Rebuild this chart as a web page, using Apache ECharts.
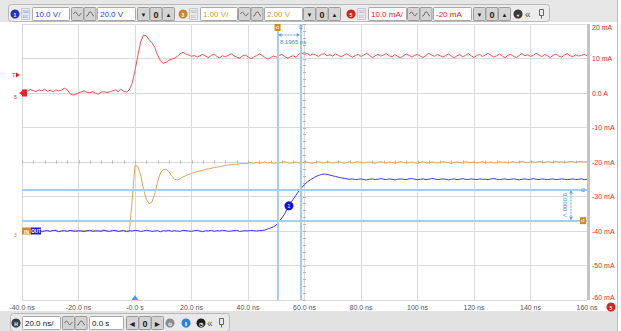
<!DOCTYPE html>
<html>
<head>
<meta charset="utf-8">
<script src="https://cdn.jsdelivr.net/npm/echarts@6/dist/echarts.min.js"></script>
<style>
  html, body { margin: 0; padding: 0; background: #fff; }
  #scope { width: 621px; height: 331px; }
</style>
</head>
<body>
<div id="scope"></div>
<script>
// Sampling: one point per nanosecond starting at -40 ns
const T0 = -40;
const DT = 1;

// Horizontal axis (20 ns/div)
const timeTicks = [-40, -20, 0, 20, 40, 60, 80, 100, 120, 140, 160];
const timeLabels = ['-40.0 ns', '-20.0 ns', '-0.0 s', '20.0 ns', '40.0 ns', '60.0 ns', '80.0 ns', '100 ns', '120 ns', '140 ns', '160 ns'];

// Channel 5 scale (10 mA/div, offset -20 mA) shown on the right
const currentTicks = [20, 10, 0, -10, -20, -30, -40, -50, -60];
const currentLabels = ['20 mA', '10 mA', '0.0 A', '-10 mA', '-20 mA', '-30 mA', '-40 mA', '-50 mA', '-60 mA'];

// Channel 5: current, mA
const ch5Current = [
  0.6, 0.9, 0.5, 1.0, 0.7, 0.4, 0.9, 0.6, 1.1, 0.5,
  0.8, 0.4, 0.9, 0.6, 0.8, 1.4, 1.0, -0.2, -0.6, -0.4,
  0.0, 0.3, 0.6, 0.2, 0.1, 0.4, 0.0, -0.3, 0.2, 0.4,
  0.1, 0.3, 0.6, 0.9, 0.4, 1.1, 0.5, 0.3, 0.9, 2.8,
  6.5, 10.8, 14.8, 16.8, 16.6, 15.4, 14.6, 13.2, 11.0, 9.3,
  8.6, 8.9, 9.5, 9.8, 10.1, 10.6, 11.4, 11.8, 11.3, 11.0,
  10.6, 10.9, 10.4, 10.8, 11.2, 10.7, 10.3, 10.9, 11.3, 10.6,
  10.2, 10.8, 10.5, 10.9, 11.4, 10.8, 10.4, 10.1, 10.7, 11.0,
  10.5, 9.9, 10.4, 10.8, 11.3, 10.9, 10.3, 9.8, 10.2, 10.7,
  10.4, 10.9, 11.2, 10.6, 10.1, 10.5, 10.8, 10.3, 11.3, 11.6,
  11.2, 11.5, 10.9, 11.3, 11.0, 10.6, 11.2, 11.4, 10.8, 11.1,
  10.7, 11.3, 10.9, 10.5, 11.0, 11.4, 10.8, 10.4, 10.9, 11.2,
  10.6, 11.0, 11.5, 10.9, 10.3, 10.8, 11.2, 10.7, 11.0, 11.4,
  10.8, 10.5, 11.1, 10.6, 10.2, 10.8, 11.3, 10.9, 10.4, 10.9,
  11.2, 10.7, 10.3, 10.9, 11.5, 11.0, 10.6, 11.2, 10.8, 10.4,
  10.9, 11.3, 10.7, 10.2, 10.8, 11.1, 10.5, 10.9, 11.4, 10.8,
  10.3, 10.9, 11.2, 10.6, 11.0, 11.5, 10.9, 10.4, 10.8, 11.3,
  10.7, 10.2, 10.9, 11.2, 10.6, 10.3, 10.9, 11.4, 10.8, 11.1,
  10.6, 10.9, 11.5, 11.0, 10.5, 11.2, 10.8, 10.3, 10.9, 11.3,
  10.7, 10.4, 11.0, 11.4, 10.8, 10.5, 11.1, 10.7, 10.9, 11.2,
  10.8
];

// Channel 3: input voltage, V
const ch3Voltage = [
  0.01, -0.02, 0.02, 0.00, -0.01, 0.03, 0.01, -0.02, 0.00, 0.02,
  -0.01, 0.01, 0.03, -0.02, 0.00, 0.02, -0.01, 0.01, 0.00, 0.03,
  -0.02, 0.01, 0.02, -0.01, 0.00, 0.02, 0.01, -0.02, 0.01, 0.03,
  0.00, -0.01, 0.02, 0.01, -0.02, 0.00, 0.02, 0.01, -0.03, 0.90,
  1.90, 1.88, 1.62, 1.22, 0.92, 0.79, 0.84, 1.08, 1.42, 1.68,
  1.78, 1.79, 1.72, 1.60, 1.50, 1.48, 1.52, 1.57, 1.60, 1.64,
  1.67, 1.70, 1.72, 1.74, 1.76, 1.79, 1.80, 1.82, 1.84, 1.85,
  1.87, 1.88, 1.90, 1.91, 1.92, 1.94, 1.93, 1.95, 1.96, 1.95,
  1.97, 1.98, 1.96, 1.99, 1.97, 1.98, 2.00, 1.97, 1.99, 1.96,
  1.98, 1.97, 1.99, 2.01, 1.98, 1.96, 1.99, 2.00, 1.97, 1.98,
  2.01, 1.99, 1.97, 1.96, 1.99, 2.01, 1.98, 1.97, 2.00, 1.99,
  1.97, 1.98, 2.01, 1.99, 1.96, 1.98, 2.00, 1.97, 1.99, 2.01,
  1.98, 1.97, 1.99, 2.00, 1.98, 1.96, 1.99, 2.01, 1.98, 1.97,
  2.00, 1.99, 1.97, 1.98, 2.01, 1.99, 1.97, 1.98, 2.00, 1.98,
  1.96, 1.99, 2.01, 1.98, 1.97, 2.00, 1.99, 1.97, 1.98, 2.01,
  1.99, 1.98, 1.96, 1.99, 2.00, 1.98, 1.97, 2.01, 1.99, 1.98,
  2.00, 1.97, 1.99, 2.01, 1.98, 1.99, 2.00, 1.97, 1.98, 2.01,
  1.99, 2.00, 1.98, 1.99, 2.01, 1.98, 2.00, 2.02, 1.99, 1.98,
  2.01, 2.00, 1.99, 2.02, 2.00, 1.98, 2.01, 2.00, 1.99, 2.02,
  2.00, 2.01, 1.99, 2.00, 2.02, 2.01, 1.99, 2.01, 2.02, 2.00,
  2.01
];

// Channel 1: output voltage, V
const ch1Voltage = [
  0.1, -0.1, 0.2, 0.0, -0.2, 0.1, 0.2, -0.1, 0.0, 0.1,
  -0.1, 0.2, 0.1, -0.2, 0.0, 0.1, -0.1, 0.2, 0.0, -0.1,
  0.1, 0.0, -0.2, 0.1, 0.2, -0.1, 0.0, 0.1, -0.1, 0.2,
  0.0, -0.1, 0.1, 0.2, -0.1, 0.0, 0.1, -0.2, 0.1, 0.0,
  0.2, 0.1, -0.1, 0.0, 0.2, 0.1, -0.1, 0.0, 0.1, -0.2,
  0.1, 0.0, 0.2, -0.1, 0.1, 0.0, -0.1, 0.2, 0.1, 0.0,
  -0.1, 0.1, 0.2, 0.0, -0.2, 0.1, 0.0, 0.2, -0.1, 0.1,
  0.0, 0.2, 0.1, -0.1, 0.0, 0.1, 0.2, -0.1, 0.0, 0.1,
  0.0, 0.2, 0.1, 0.0,
  0.1, 0.15, 0.3, 0.6, 0.9, 1.2, 1.7, 2.7, 3.8, 5.0,
  6.6, 8.0, 9.2, 10.4, 11.6, 12.6, 13.4, 14.2, 14.8, 15.3,
  15.8, 16.1, 16.4, 16.5, 16.4, 16.2, 16.0, 15.8, 15.6, 15.4,
  15.3, 15.1, 15.0, 15.1, 14.9, 15.0, 15.1, 14.9, 14.8, 15.0,
  15.1, 14.9, 15.0, 15.2, 15.0, 14.9, 15.1, 15.0, 14.8, 15.0,
  15.1, 15.0, 14.9, 15.1, 15.2, 15.0, 14.9, 15.0, 15.1, 14.9,
  15.0, 15.2, 15.1, 14.9, 15.0, 15.1, 15.0, 14.8, 15.0, 15.1,
  14.9, 15.0, 15.2, 15.0, 14.9, 15.1, 15.0, 14.9, 15.1, 15.0,
  15.0, 14.9, 15.1, 15.2, 15.0, 14.9, 15.0, 15.1, 14.9, 15.0,
  15.1, 15.0, 14.8, 15.0, 15.1, 14.9, 15.0, 15.2, 15.0, 14.9,
  15.1, 15.0, 14.9, 15.0, 15.1, 14.9, 15.0, 15.1, 15.0, 14.9,
  15.0, 15.1, 14.9, 15.0, 15.1, 14.9, 15.0
];

// Cursors: two time cursors (ns) and two level cursors on channel 1 (V)
const cursorTimes = [50.45, 58.6465];
const cursorLevels = [3.0, 12.0];
const ch1Marker = [54.5, 7.3];
const triggerLevel = 5.2;   // mA, channel 5
const triggerTime = 0;      // ns

const RED = '#f25252', ORANGE = '#e2a552', BLUE = '#3b3bf2', CURSOR = '#a3cdf4';
const FONT = '"Liberation Sans", Arial, sans-serif';

const toPairs = arr => arr.map((v, i) => [T0 + i * DT, v]);
const labelFor = (ticks, labels) => v => {
  const k = ticks.findIndex(t => Math.abs(t - v) < 1e-9);
  return k >= 0 ? labels[k] : '';
};
// keep the outermost current labels inside the graticule
const currentLabel = v => {
  const s = labelFor(currentTicks, currentLabels)(v);
  if (v === currentTicks[0]) return '{first|' + s + '}';
  if (v === currentTicks[currentTicks.length - 1]) return '{last|' + s + '}';
  return s;
};

const chart = echarts.init(document.getElementById('scope'), null, { renderer: 'svg' });

chart.setOption({
  animation: false,
  backgroundColor: '#ffffff',
  grid: { left: 22, right: 34, top: 24, bottom: 31, containLabel: false },
  xAxis: {
    type: 'value', min: -40, max: 160, interval: 20,
    axisLine: { show: false }, axisTick: { show: false },
    splitLine: { show: true, lineStyle: { color: '#dadada', width: 1 } },
    axisLabel: { formatter: labelFor(timeTicks, timeLabels), color: '#555', fontSize: 7, fontFamily: FONT, margin: 4 }
  },
  yAxis: [
    {
      type: 'value', position: 'right', min: -60, max: 20, interval: 10,
      axisLine: { show: false }, axisTick: { show: false },
      splitLine: { show: true, lineStyle: { color: '#dadada', width: 1 } },
      axisLabel: {
        formatter: currentLabel, color: '#e02a2a', fontSize: 7, fontFamily: FONT, margin: 5,
        rich: {
          first: { color: '#e02a2a', fontSize: 7, fontFamily: FONT, padding: [6, 0, 0, 0] },
          last: { color: '#e02a2a', fontSize: 7, fontFamily: FONT, padding: [0, 0, 5, 0] }
        }
      }
    },
    { type: 'value', min: -20, max: 60, show: false, splitLine: { show: false } },
    { type: 'value', min: -2, max: 6, show: false, splitLine: { show: false } }
  ],
  series: [
    {
      name: 'CH5', type: 'line', yAxisIndex: 0, data: toPairs(ch5Current),
      showSymbol: false, lineStyle: { color: RED, width: 1 }, z: 3
    },
    {
      name: 'CH3', type: 'line', yAxisIndex: 2, data: toPairs(ch3Voltage),
      showSymbol: false, lineStyle: { color: ORANGE, width: 1 }, z: 3
    },
    {
      name: 'CH1', type: 'line', yAxisIndex: 1, data: toPairs(ch1Voltage),
      showSymbol: false, lineStyle: { color: BLUE, width: 1 }, z: 4,
      markLine: {
        silent: true, symbol: 'none', animation: false,
        label: { show: false },
        lineStyle: { color: CURSOR, width: 2, type: 'solid' },
        data: [
          { xAxis: cursorTimes[0] }, { xAxis: cursorTimes[1] },
          { yAxis: cursorLevels[0] }, { yAxis: cursorLevels[1] }
        ]
      },
      markPoint: {
        silent: true, symbol: 'circle', symbolSize: 9,
        itemStyle: { color: '#1414d8' },
        label: { show: true, formatter: '1', color: '#fff', fontSize: 5, fontFamily: FONT },
        data: [{ coord: ch1Marker }]
      }
    }
  ]
});

// ---------- overlay: scope chrome, markers and cursor readouts ----------
const g = [];
const px = (t, v, yi) => chart.convertToPixel({ xAxisIndex: 0, yAxisIndex: yi }, [t, v]);
const pL = px(-40, 0, 0)[0], pR = px(160, 0, 0)[0];
const pT = px(0, 20, 0)[1], pB = px(0, -60, 0)[1];

function text(x, y, s, color, size, opts) {
  return Object.assign({ type: 'text', x, y, z: 20,
    style: { text: s, fill: color, font: size + 'px ' + FONT, align: 'left', verticalAlign: 'middle' } }, opts || {});
}
function rect(x, y, w, h, fill, stroke, r) {
  return { type: 'rect', z: 18, shape: { x, y, width: w, height: h, r: r || 0 },
    style: { fill, stroke: stroke || null, lineWidth: 1 } };
}
function circle(cx, cy, r, fill, label, lc) {
  const out = [{ type: 'circle', z: 19, shape: { cx, cy, r }, style: { fill } }];
  if (label) out.push({ type: 'text', z: 20, x: cx, y: cy + 0.5, style: { text: label, fill: lc || '#fff', font: 'bold 5px ' + FONT, align: 'center', verticalAlign: 'middle' } });
  return out;
}
function inputBox(x, y, w, h, s, color) {
  g.push(rect(x + 0.5, y + 0.5, w, h, '#ffffff', '#a9a9a9', 1));
  g.push(text(x + 3, y + h / 2 + 1, s, color, 8));
}
function waveButtons(x, y, h) {
  for (let k = 0; k < 2; k++) {
    const bx = x + k * 12.5;
    g.push(rect(bx + 0.5, y + 0.5, 12, h, '#d4d4d4', '#9b9b9b', 1));
    const cy = y + h / 2 + 0.5;
    const shapeA = [0, -1.5, -2, -1, 0.5, 1.8, 1.5, 0, -1];
    const shapeB = [2, 2, 1, -1.5, -2, -2, -0.5, 1.5, 2];
    const pts = [];
    for (let j = 0; j <= 8; j++) pts.push([bx + 2.5 + j, cy + (k === 0 ? shapeA[j] : shapeB[j])]);
    g.push({ type: 'polyline', z: 19, shape: { points: pts }, style: { stroke: '#555', lineWidth: 0.8, fill: null } });
  }
}
function stepButtons(x, y, h, glyphs) {
  glyphs.forEach((s, k) => {
    const bx = x + k * 12.5;
    g.push(rect(bx + 0.5, y + 0.5, 12, h, '#d4d4d4', '#9b9b9b', 1));
    g.push({ type: 'text', z: 20, x: bx + 6.5, y: y + h / 2 + 1,
      style: { text: s, fill: '#222', font: (s === '0' ? 'bold 9px ' : 'bold 6px ') + FONT, align: 'center', verticalAlign: 'middle' } });
  });
}
function badge(x, y, color) {
  g.push(rect(x + 0.5, y + 0.5, 8, 11, '#e4e8f4', '#c4c8d8', 0));
  g.push({ type: 'text', z: 20, x: x + 4.5, y: y + 4, style: { text: '50Ω', fill: color, font: '3px ' + FONT, align: 'center', verticalAlign: 'middle' } });
  g.push({ type: 'text', z: 20, x: x + 4.5, y: y + 8.5, style: { text: 'DC', fill: color, font: '3.5px ' + FONT, align: 'center', verticalAlign: 'middle' } });
}

// top control strip
g.push(rect(0, 0, 617, 22, '#e6e6e6', null, 0));
g.push(rect(8.5, 4.5, 541, 17, '#ececec', '#b9b9b9', 3));
const ty = 7, th = 13;
g.push(...circle(15, 14, 4.5, '#2532c2', '1'));
badge(21, 8, '#6a74c8');
inputBox(32, ty, 37, th, '10.0 V/', '#1c3cff');
waveButtons(71, ty, th);
inputBox(97, ty, 38, th, '20.0 V', '#1c3cff');
stepButtons(137, ty, th, ['▼', '0', '▲']);
g.push(...circle(183, 14, 4.5, '#c7862b', '3'));
badge(189, 8, '#c79a5a');
inputBox(200, ty, 37, th, '1.00 V/', '#e49a2c');
waveButtons(238, ty, th);
inputBox(264, ty, 38, th, '2.00 V', '#e49a2c');
stepButtons(303, ty, th, ['▼', '0', '▲']);
g.push(...circle(351, 14, 4.5, '#d62222', '5'));
badge(357, 8, '#d88a8a');
inputBox(368, ty, 38, th, '10.0 mA/', '#e02020');
waveButtons(407, ty, th);
inputBox(433, ty, 38, th, '-20 mA', '#e02020');
stepButtons(473, ty, th, ['▼', '0', '▲']);
g.push(...circle(518, 14, 4.5, '#3a3a3a', '+'));
g.push(text(525, 14, '«', '#555', 10));
g.push(rect(539.5, 9.5, 4, 6, null, '#666', 0));
g.push({ type: 'line', z: 19, shape: { x1: 541.5, y1: 15.5, x2: 541.5, y2: 18.5 }, style: { stroke: '#666', lineWidth: 1 } });

// bottom control strip
g.push(rect(0, 311, 617, 20, '#e2e2e2', null, 0));
g.push(rect(10.5, 313.5, 219, 18, '#e9e9e9', '#b9b9b9', 3));
const by = 316, bh = 13;
g.push(...circle(16, 323, 4.5, '#3a3a3a', 'H'));
inputBox(22, by, 38, bh, '20.0 ns/', '#111');
waveButtons(62, by, bh);
inputBox(89, by, 34, bh, '0.0 s', '#111');
stepButtons(126, by, bh, ['◀', '0', '▶']);
g.push(...circle(170, 323, 4.5, '#8a8a8a', '⊙'));
g.push(...circle(186, 323, 4.5, '#2f7fd6', '‖'));
g.push(...circle(201, 323, 4.5, '#1c1c1c', '◷'));
g.push(text(207, 323, '«', '#555', 10));
g.push(rect(219.5, 318.5, 4, 6, null, '#666', 0));
g.push({ type: 'line', z: 19, shape: { x1: 221.5, y1: 324.5, x2: 221.5, y2: 327.5 }, style: { stroke: '#666', lineWidth: 1 } });

// right frame bar and outer edge
g.push(rect(pR, pT, 3, pB - pT, '#c4c4c4', null, 0));
g.push({ type: 'line', z: 18, shape: { x1: 617.5, y1: 0, x2: 617.5, y2: 331 }, style: { stroke: '#bdbdbd', lineWidth: 1 } });
g.push(...circle(611, 307, 4.5, '#d62222', '5'));

// minor ticks along the centre graticule lines
const yc = px(0, -20, 0)[1];
const xc = px(60, 0, 0)[0];
for (let t = -40; t <= 160; t += 4) {
  const x = Math.round(px(t, 0, 0)[0]) + 0.5;
  g.push({ type: 'line', z: 2, shape: { x1: x, y1: yc - 1.5, x2: x, y2: yc + 1.5 }, style: { stroke: '#b4b4b4', lineWidth: 1 } });
}
for (let v = -60; v <= 20; v += 2) {
  const y = Math.round(px(0, v, 0)[1]) + 0.5;
  g.push({ type: 'line', z: 2, shape: { x1: xc - 1.5, y1: y, x2: xc + 1.5, y2: y }, style: { stroke: '#b4b4b4', lineWidth: 1 } });
}

// trigger markers
const trigY = px(0, triggerLevel, 0)[1];
g.push(text(pL - 10, trigY, 'T', '#e02020', 6));
g.push({ type: 'polygon', z: 20, shape: { points: [[pL - 6, trigY - 2.5], [pL - 2, trigY], [pL - 6, trigY + 2.5]] }, style: { fill: '#e02020' } });
const trigX = px(triggerTime, 0, 0)[0];
g.push({ type: 'polygon', z: 20, shape: { points: [[trigX - 3.5, pB], [trigX, pB - 5], [trigX + 3.5, pB]] }, style: { fill: '#3aa6ea' } });

// ground reference markers
const gnd5 = px(0, 0, 0)[1];
g.push(rect(pL, gnd5 - 3.5, 5, 7, '#e42626', null, 0));
g.push({ type: 'polygon', z: 19, shape: { points: [[pL, gnd5 - 2], [pL - 3, gnd5], [pL, gnd5 + 2]] }, style: { fill: '#e42626' } });
g.push(text(pL - 8, gnd5 + 4, '5', '#e42626', 5));
const gnd3 = px(0, 0, 2)[1];
g.push(rect(pL, gnd3 - 3.5, 9, 7, '#d08a2a', null, 0));
g.push({ type: 'text', z: 20, x: pL + 4.5, y: gnd3 + 0.5, style: { text: 'IN', fill: '#fff', font: 'bold 5px ' + FONT, align: 'center', verticalAlign: 'middle' } });
const gnd1 = px(0, 0, 1)[1];
g.push(rect(pL + 9, gnd1 - 3.5, 10, 7, '#1a1ae6', null, 0));
g.push({ type: 'text', z: 20, x: pL + 14, y: gnd1 + 0.5, style: { text: 'OUT', fill: '#fff', font: 'bold 4.5px ' + FONT, align: 'center', verticalAlign: 'middle' } });
g.push(text(pL - 8, gnd3 + 4, '3', '#d08a2a', 5));

// time-cursor readout
const cx1 = px(cursorTimes[0], 0, 0)[0], cx2 = px(cursorTimes[1], 0, 0)[0];
g.push(rect(cx1 - 3, pT, 6, 7, '#d38a22', null, 0));
g.push({ type: 'text', z: 20, x: cx1, y: pT + 3.5, style: { text: 't1', fill: '#fff', font: 'bold 4px ' + FONT, align: 'center', verticalAlign: 'middle' } });
g.push({ type: 'text', z: 20, x: cx2, y: pT + 3, style: { text: 't2', fill: '#3a8ee6', font: '5px ' + FONT, align: 'center', verticalAlign: 'middle' } });
const ay = pT + 11;
g.push({ type: 'line', z: 20, shape: { x1: cx1 + 1, y1: ay, x2: cx2 - 1, y2: ay }, style: { stroke: '#5aa2ea', lineWidth: 1, lineDash: [2, 1] } });
g.push({ type: 'polygon', z: 20, shape: { points: [[cx1 + 1, ay], [cx1 + 4, ay - 2], [cx1 + 4, ay + 2]] }, style: { fill: '#5aa2ea' } });
g.push({ type: 'polygon', z: 20, shape: { points: [[cx2 - 1, ay], [cx2 - 4, ay - 2], [cx2 - 4, ay + 2]] }, style: { fill: '#5aa2ea' } });
g.push({ type: 'text', z: 20, x: (cx1 + cx2) / 2 + 4, y: ay + 7, style: { text: (cursorTimes[1] - cursorTimes[0]).toFixed(4) + ' ns', fill: '#3a8ee6', font: '6px ' + FONT, align: 'center', verticalAlign: 'middle' } });

// level-cursor readout
const hy1 = px(0, cursorLevels[1], 1)[1], hy2 = px(0, cursorLevels[0], 1)[1];
const vx = pR - 16;
g.push({ type: 'text', z: 20, x: pR - 4, y: hy1, style: { text: 't2', fill: '#3a8ee6', font: '5px ' + FONT, align: 'center', verticalAlign: 'middle' } });
g.push(rect(pR - 7, hy2 - 3.5, 6, 7, '#d38a22', null, 0));
g.push({ type: 'text', z: 20, x: pR - 4, y: hy2, style: { text: 't1', fill: '#fff', font: 'bold 4px ' + FONT, align: 'center', verticalAlign: 'middle' } });
g.push({ type: 'line', z: 20, shape: { x1: vx, y1: hy1 + 1, x2: vx, y2: hy2 - 1 }, style: { stroke: '#5aa2ea', lineWidth: 1, lineDash: [2, 1] } });
g.push({ type: 'polygon', z: 20, shape: { points: [[vx, hy1 + 1], [vx - 2, hy1 + 4], [vx + 2, hy1 + 4]] }, style: { fill: '#5aa2ea' } });
g.push({ type: 'polygon', z: 20, shape: { points: [[vx, hy2 - 1], [vx - 2, hy2 - 4], [vx + 2, hy2 - 4]] }, style: { fill: '#5aa2ea' } });
g.push({ type: 'text', z: 20, x: vx - 6, y: (hy1 + hy2) / 2, rotation: -Math.PI / 2,
  style: { text: (cursorLevels[1] - cursorLevels[0]).toFixed(4) + ' V', fill: '#3a8ee6', font: '6px ' + FONT, align: 'center', verticalAlign: 'middle' } });

chart.setOption({ graphic: g });
</script>
</body>
</html>
